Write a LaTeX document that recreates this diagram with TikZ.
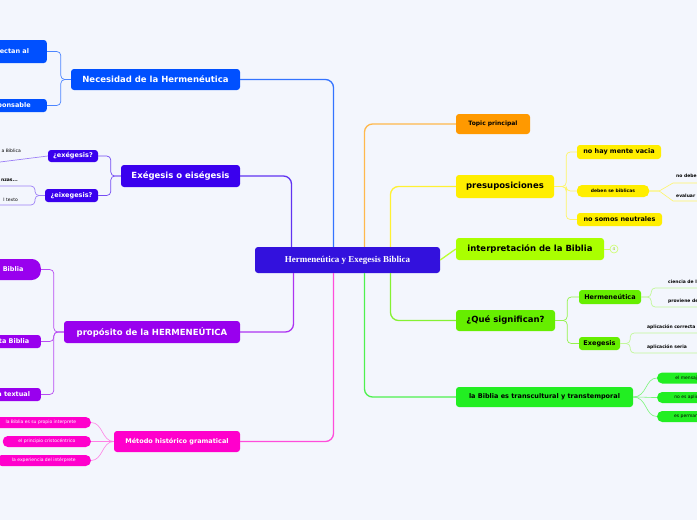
\documentclass[tikz,border=0pt]{standalone}
\usepackage{fontspec}
\setmainfont{Liberation Serif}
\setsansfont{DejaVu Sans}
\usetikzlibrary{positioning,calc}
\definecolor{bgc}{HTML}{F3F6FD}
\definecolor{cnec}{HTML}{0050FF}
\definecolor{cexe}{HTML}{3A00EE}
\definecolor{ccen}{HTML}{3311DD}
\definecolor{cpro}{HTML}{9900EE}
\definecolor{cmet}{HTML}{FF00CC}
\definecolor{ctop}{HTML}{FF9900}
\definecolor{cpre}{HTML}{FFEE00}
\definecolor{cint}{HTML}{AAFF00}
\definecolor{cque}{HTML}{66EE00}
\definecolor{cbib}{HTML}{22EE22}
\begin{document}
\begin{tikzpicture}[x=1pt,y=-1pt,
    box/.style={rounded corners=3pt, inner sep=0pt, font=\sffamily\bfseries},
    mainbox/.style={box, text=white, font=\sffamily\bfseries\fontsize{8.5}{10}\selectfont},
    subbox/.style={box, text=white, font=\sffamily\bfseries\fontsize{6.5}{8}\selectfont},
    pill/.style={box, rounded corners=5pt, text=white, font=\sffamily\fontsize{4.5}{6}\selectfont},
    leaf/.style={inner sep=0pt, anchor=west, font=\sffamily\bfseries\fontsize{4.5}{6}\selectfont},
    branch/.style={line width=1.3pt, rounded corners=8pt},
    twig/.style={line width=0.7pt, rounded corners=4pt},
    ]
    \clip (0,0) rectangle (697,520);
    \fill[bgc] (0,0) rectangle (697,520);

    % Centre
    \node[box, fill=ccen, text=white, minimum width=185, minimum height=26,
          font=\rmfamily\bfseries\fontsize{9}{11}\selectfont] (center) at (347.5,260) {Hermeneútica y Exegesis Biblica};

    % Left branches
    \node[mainbox, fill=cnec, minimum width=169, minimum height=21] (nec) at (155.5,79.5) {Necesidad de la Hermenéutica};
    \node[subbox, fill=cnec, minimum width=60, minimum height=23, anchor=east] (nec1) at (47,51.5) {\hspace*{-12pt}afectan al};
    \node[subbox, fill=cnec, minimum width=80, minimum height=13, anchor=east] (nec2) at (47,105.5) {\hspace*{3pt}responsable};

    \node[mainbox, fill=cexe, minimum width=119, minimum height=22] (exe) at (180.5,176) {Exégesis o eiségesis};
    \node[subbox, fill=cexe, minimum width=50, minimum height=12] (exe1) at (73,156) {¿exégesis?};
    \node[subbox, fill=cexe, minimum width=53, minimum height=13] (exe2) at (71.5,195.5) {¿eixegesis?};
    \node[leaf, font=\sffamily\fontsize{4.5}{6}\selectfont, anchor=east] (exe1a) at (21,151) {a Biblica};
    \node[leaf, anchor=east] (exe2a) at (18,180) {nzas...};
    \node[leaf, font=\sffamily\fontsize{4.5}{6}\selectfont, anchor=east] (exe2b) at (18,200) {l texto};

    \node[mainbox, fill=cpro, minimum width=176, minimum height=22] (pro) at (152,332) {propósito de la HERMENEÚTICA};
    \node[subbox, fill=cpro, rounded corners=9pt, minimum width=80, minimum height=21, anchor=east] (pro1) at (41,269.5) {\hspace*{18pt}a Biblia};
    \node[subbox, fill=cpro, minimum width=70, minimum height=13, anchor=east] (pro2) at (41,341.5) {\hspace*{12pt}nta Biblia};
    \node[subbox, fill=cpro, minimum width=70, minimum height=13, anchor=east] (pro3) at (41,394.5) {\hspace*{12pt}ca textual};

    \node[subbox, fill=cmet, minimum width=126, minimum height=21] (met) at (177,441.5) {Método histórico gramatical};
    \node[pill, fill=cmet, minimum width=100, minimum height=11, anchor=east] (met1) at (91,422.5) {la Biblia es su propio interprete};
    \node[pill, fill=cmet, minimum width=88, minimum height=11, anchor=east] (met2) at (91,441.5) {el principio cristocéntrico};
    \node[pill, fill=cmet, minimum width=94, minimum height=11, anchor=east] (met3) at (91,460.5) {la experiencia del intérprete};

    % Right branches
    \node[box, fill=ctop, minimum width=74, minimum height=20, font=\sffamily\bfseries\fontsize{6}{7}\selectfont] (top) at (493,124) {Topic principal};

    \node[mainbox, text=black, fill=cpre, minimum width=98, minimum height=23] (pre) at (505,186.5) {presuposiciones};
    \node[subbox, text=black, fill=cpre, minimum width=84, minimum height=14] (pre1) at (619,152) {no hay mente vacia};
    \node[pill, text=black, fill=cpre, minimum width=72, minimum height=12, font=\sffamily\bfseries\fontsize{4.5}{6}\selectfont] (pre2) at (613,191) {deben se biblicas};
    \node[subbox, text=black, fill=cpre, minimum width=85, minimum height=13] (pre3) at (619.5,219.5) {no somos neutrales};
    \node[leaf] (pre2a) at (676,176) {no debe};
    \node[leaf] (pre2b) at (676,196) {evaluar};

    \node[mainbox, text=black, fill=cint, minimum width=148, minimum height=22] (int) at (530,249) {interpretación de la Biblia};
    \node[circle, draw=cint!60, line width=0.6pt, inner sep=0pt, minimum size=8, text=cint!80!black,
          font=\sffamily\fontsize{4}{5}\selectfont] (intn) at (614,249) {4};

    \node[mainbox, text=black, fill=cque, minimum width=99, minimum height=21] (que) at (505.5,320.5) {¿Qué significan?};
    \node[subbox, text=black, fill=cque, minimum width=62, minimum height=14] (que1) at (610,297) {Hermeneútica};
    \node[subbox, text=black, fill=cque, minimum width=41, minimum height=13] (que2) at (599.5,343.5) {Exegesis};
    \node[leaf] (que1a) at (668,282) {ciencia de la};
    \node[leaf] (que1b) at (668,301) {proviene del};
    \node[leaf] (que2a) at (647,327) {aplicación correcta};
    \node[leaf] (que2b) at (647,347) {aplicación seria};

    \node[subbox, text=black, fill=cbib, minimum width=177, minimum height=20] (bib) at (544.5,397) {la Biblia es transcultural y transtemporal};
    \node[pill, text=black, fill=cbib, minimum width=60, minimum height=11, anchor=west] (bib1) at (657,378) {\hspace*{8pt}el mensaje de};
    \node[pill, text=black, fill=cbib, minimum width=60, minimum height=11, anchor=west] (bib2) at (657,397.5) {\hspace*{8pt}no es aplicable};
    \node[pill, text=black, fill=cbib, minimum width=60, minimum height=11, anchor=west] (bib3) at (657,416.5) {\hspace*{8pt}es permanente};

    % Main connectors
    \draw[branch, cnec!80] (nec.east) -| ($(center.north)+(-14,0)$);
    \draw[branch, cexe!80] (exe.east) -| ($(center.north)+(-56,0)$);
    \draw[branch, cpro!80] (pro.east) -| ($(center.south)+(-54,0)$);
    \draw[branch, cmet!70] (met.east) -| ($(center.south)+(-14,0)$);
    \draw[branch, ctop!70] ($(center.north)+(17,0)$) |- (top.west);
    \draw[branch, cpre!80] ($(center.north)+(43,0)$) |- (pre.west);
    \draw[branch, cint!80] (center.east) -- (int.west);
    \draw[branch, cque!80] ($(center.south)+(43,0)$) |- (que.west);
    \draw[branch, cbib!80] ($(center.south)+(17,0)$) |- (bib.west);

    % Sub connectors
    \draw[twig, cnec!70] (nec.west) -- ++(-10,0) |- (nec1.east);
    \draw[twig, cnec!70] (nec.west) -- ++(-10,0) |- (nec2.east);
    \draw[twig, cexe!70] (exe.west) -- ++(-10,0) |- (exe1.east);
    \draw[twig, cexe!70] (exe.west) -- ++(-10,0) |- (exe2.east);
    \draw[twig, cexe!50] (exe1.west) -- (0,162);
    \draw[twig, cexe!50] (exe2.west) -| (35,186) -- (0,186);
    \draw[twig, cexe!50] (exe2.west) -| (35,205) -- (0,205);
    \draw[twig, cpro!70] (pro.west) -- ++(-10,0) |- (pro1.east);
    \draw[twig, cpro!70] (pro.west) -- ++(-10,0) |- (pro2.east);
    \draw[twig, cpro!70] (pro.west) -- ++(-10,0) |- (pro3.east);
    \foreach \k in {1,2,3}
      \draw[cmet!50, line width=0.6pt] (met.west) .. controls +(-12,0) and +(12,0) .. (met\k.east);
    \draw[twig, cpre!60] (pre.east) -- ++(12,0) |- (pre1.west);
    \draw[twig, cpre!60] (pre.east) -- ++(12,0) |- (pre2.west);
    \draw[twig, cpre!60] (pre.east) -- ++(12,0) |- (pre3.west);
    \draw[cpre!60, line width=0.6pt] (pre2.east) -- ++(10,0) -- (673,183) -- (697,183);
    \draw[cpre!60, line width=0.6pt] (pre2.east) -- ++(10,0) -- (673,201) -- (697,201);
    \draw[cint!60, line width=0.6pt] (int.east) -- (intn.west);
    \draw[twig, cque!70] (que.east) -- ++(12,0) |- (que1.west);
    \draw[twig, cque!70] (que.east) -- ++(12,0) |- (que2.west);
    \draw[twig, cque!40] (que1.east) -- ++(10,0) |- (697,288);
    \draw[twig, cque!40] (que1.east) -- ++(10,0) |- (697,307);
    \draw[twig, cque!40] (que2.east) -- ++(10,0) |- (697,333);
    \draw[twig, cque!40] (que2.east) -- ++(10,0) |- (697,353);
    \foreach \k in {1,2,3}
      \draw[cbib!60, line width=0.6pt] (bib.east) .. controls +(14,0) and +(-12,0) .. (bib\k.west);
\end{tikzpicture}
\end{document}
